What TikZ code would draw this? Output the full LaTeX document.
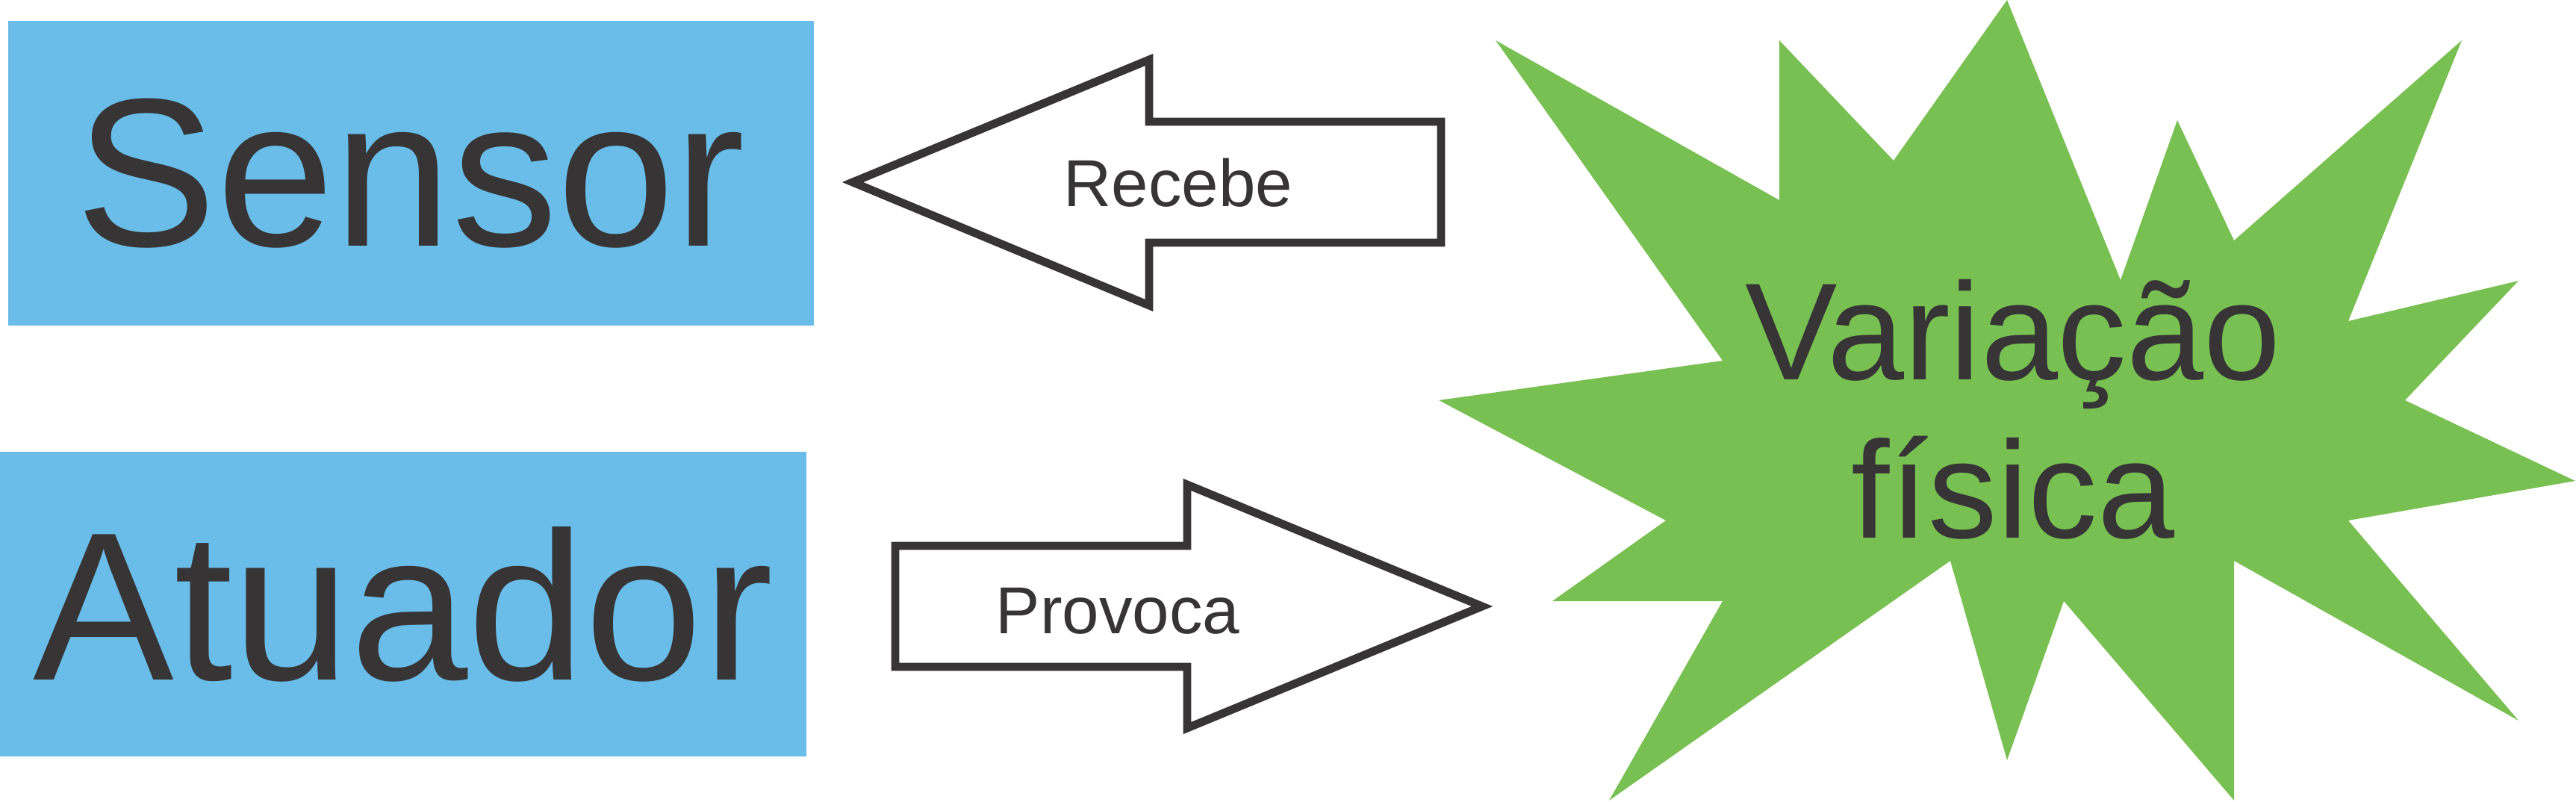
\documentclass[tikz,border=0pt]{standalone}
\usepackage{fontspec}
\setmainfont{Liberation Sans}
\definecolor{boxblue}{RGB}{105,189,232}
\definecolor{burstgreen}{RGB}{120,192,82}
\definecolor{inkgray}{RGB}{54,52,53}

\begin{document}
\begin{tikzpicture}[
    block/.style={rectangle, fill=boxblue, inner sep=0pt, text=inkgray,
                  minimum width=10.79cm, minimum height=4.08cm, font=\fontsize{80.5}{96}\selectfont},
    bigarrow/.style={draw=inkgray, fill=white, line width=3.1pt},
    arrowtext/.style={text=inkgray, anchor=base, inner sep=0pt, font=\fontsize{25.3}{30}\selectfont},
    burst/.style={fill=burstgreen}
]
    \useasboundingbox (0,0) rectangle (34.5,10.73);

    % Boxes
    \node[block] (sensor) at (5.50,8.41) {Sensor};
    \node[block] (atuador) at (5.40,2.64) {Atuador};

    % Burst
    \fill[burst] (26.88,10.73) -- (28.40,6.98) -- (29.16,9.12) -- (29.92,7.51)
        -- (32.97,10.19) -- (31.45,6.43) -- (33.73,6.97) -- (32.21,5.37)
        -- (34.49,4.29) -- (31.45,3.76) -- (33.73,1.08) -- (29.92,3.22)
        -- (29.92,0.01) -- (27.64,2.68) -- (26.88,0.55) -- (26.12,3.22)
        -- (21.55,0.01) -- (23.07,2.68) -- (20.79,2.68) -- (22.31,3.76)
        -- (19.27,5.37) -- (23.07,5.90) -- (20.03,10.19) -- (23.83,8.05)
        -- (23.83,10.19) -- (25.36,8.58) -- cycle;
    \node[text=inkgray, align=center, anchor=base, inner sep=0pt,
          font=\fontsize{52.7}{60.3}\selectfont] (variacao) at (26.96,3.53) {Variação\\física};

    % Arrows
    \draw[bigarrow] (11.42,8.29) -- (15.39,9.93) -- (15.39,9.10) -- (19.30,9.10)
        -- (19.30,7.48) -- (15.39,7.48) -- (15.39,6.64) -- cycle;
    \node[arrowtext] (recebe) at (15.78,7.96) {Recebe};

    \draw[bigarrow] (11.99,3.42) -- (15.90,3.42) -- (15.90,4.24) -- (19.85,2.61)
        -- (15.90,0.98) -- (15.90,1.80) -- (11.99,1.80) -- cycle;
    \node[arrowtext] (provoca) at (14.97,2.25) {Provoca};
\end{tikzpicture}
\end{document}
